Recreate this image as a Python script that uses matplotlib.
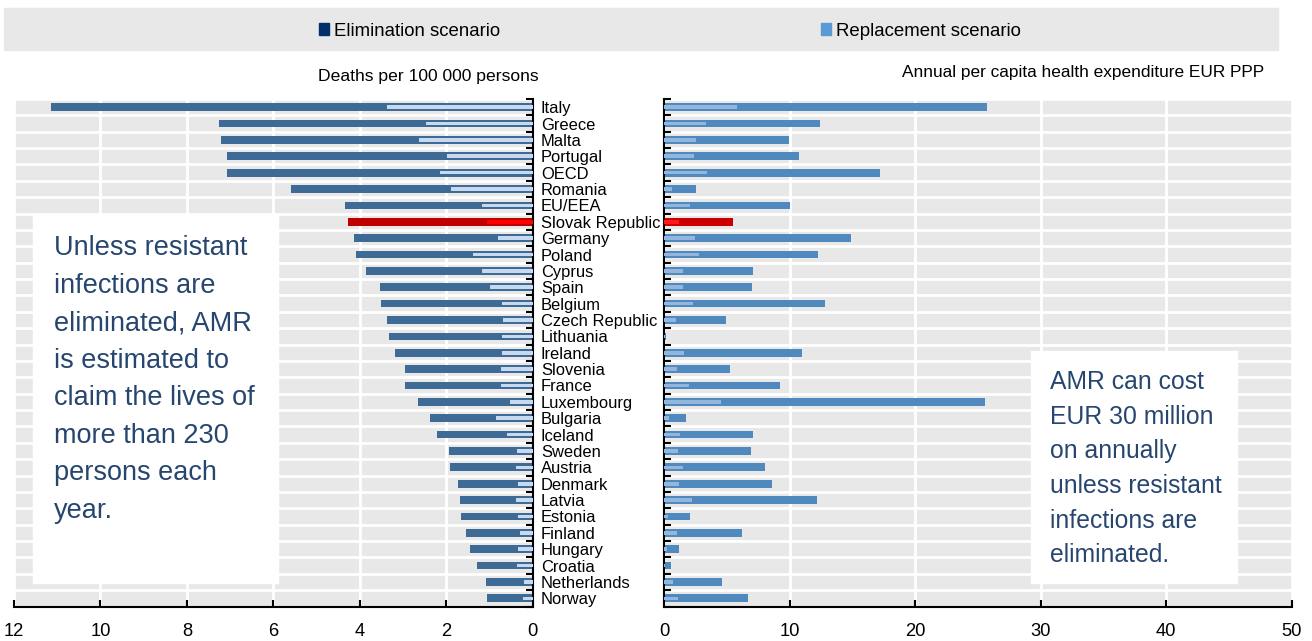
import numpy as np
import matplotlib
matplotlib.use("Agg")
import matplotlib.pyplot as plt
from matplotlib.patches import Patch, Rectangle
from matplotlib.ticker import MultipleLocator

plt.rcParams['font.family'] = ['Liberation Sans', 'DejaVu Sans']

# data
countries = ["Italy", "Greece", "Malta", "Portugal", "OECD", "Romania", "EU/EEA",
             "Slovak Republic", "Germany", "Poland", "Cyprus", "Spain", "Belgium",
             "Czech Republic", "Lithuania", "Ireland", "Slovenia", "France",
             "Luxembourg", "Bulgaria", "Iceland", "Sweden", "Austria", "Denmark",
             "Latvia", "Estonia", "Finland", "Hungary", "Croatia", "Netherlands",
             "Norway"]

# deaths per 100 000 persons
deaths_elimination = [11.15, 7.25, 7.22, 7.06, 7.06, 5.58, 4.35, 4.28, 4.14, 4.09,
                      3.86, 3.54, 3.50, 3.37, 3.32, 3.18, 2.96, 2.95, 2.65, 2.37,
                      2.22, 1.94, 1.90, 1.72, 1.68, 1.66, 1.53, 1.44, 1.29, 1.07, 1.06]
deaths_replacement = [3.36, 2.46, 2.62, 1.99, 2.14, 1.89, 1.16, 1.06, 0.80, 1.38,
                      1.18, 0.98, 0.71, 0.69, 0.71, 0.71, 0.72, 0.73, 0.52, 0.84,
                      0.60, 0.37, 0.39, 0.33, 0.38, 0.34, 0.29, 0.34, 0.37, 0.20, 0.22]

# annual per capita health expenditure, EUR PPP
spend_elimination = [25.7, 12.43, 9.96, 10.77, 17.23, 2.54, 10.06, 5.52, 14.9, 12.3,
                     7.1, 7.04, 12.85, 4.96, 0.13, 10.96, 5.28, 9.28, 25.6, 1.73,
                     7.1, 6.93, 8.03, 8.64, 12.16, 2.1, 6.24, 1.2, 0.56, 4.61, 6.72]
spend_replacement = [5.79, 3.36, 2.54, 2.41, 3.46, 0.65, 2.1, 1.22, 2.48, 2.77,
                     1.55, 1.52, 2.29, 0.96, 0.05, 1.6, 1.04, 2.0, 4.56, 0.4,
                     1.3, 1.15, 1.55, 1.2, 2.24, 0.35, 1.0, 0.2, 0.1, 0.7, 1.15]

highlight = "Slovak Republic"

W, H = 1312, 641
def fx(px):
    return px / W
def fy(py):
    return 1 - py / H

bg = '#e8e8e8'
txt_blue = '#27466f'

fig = plt.figure(figsize=(W / 100, H / 100), dpi=100)

ax_top, ax_bot = 99, 606.5
axL = fig.add_axes([fx(14), fy(ax_bot), fx(532.5) - fx(14), fy(ax_top) - fy(ax_bot)])
axR = fig.add_axes([fx(664), fy(ax_bot), fx(1291.5) - fx(664), fy(ax_top) - fy(ax_bot)])

y = np.arange(len(countries))


def colours(normal, special):
    return [special if c == highlight else normal for c in countries]


axL.barh(y, deaths_elimination, height=0.47, color=colours('#3e6a96', '#c00000'), zorder=2)
axL.barh(y, deaths_replacement, height=0.22, color=colours('#c6d9ee', '#ff0000'), zorder=3)
axR.barh(y, spend_elimination, height=0.47, color=colours('#4f89be', '#cc0000'), zorder=2)
axR.barh(y, spend_replacement, height=0.22, color=colours('#93b6de', '#ff1a1a'), zorder=3)

axL.set_xlim(12, 0)
axR.set_xlim(0, 50)

for ax in (axL, axR):
    ax.set_facecolor(bg)
    ax.set_ylim(len(countries) - 0.5, -0.5)
    ax.set_axisbelow(True)
    ax.xaxis.set_major_locator(MultipleLocator(2 if ax is axL else 10))
    ax.set_yticks(y)
    ax.set_yticks(np.arange(len(countries) + 1) - 0.5, minor=True)
    ax.grid(axis='x', which='major', color='white', lw=2)
    ax.grid(axis='y', which='minor', color='white', lw=2)
    ax.grid(axis='y', which='major', visible=False)
    ax.tick_params(axis='x', direction='in', length=5, width=1.5, pad=12, labelsize=13.2)
    ax.tick_params(axis='y', which='major', length=0)
    ax.tick_params(axis='y', which='minor', direction='in', length=5, width=1.5)
    ax.spines['top'].set_visible(False)
    ax.spines['bottom'].set_linewidth(1.5)

axL.spines['left'].set_visible(False)
axL.spines['right'].set_linewidth(1.5)
axL.yaxis.tick_right()
axL.yaxis.set_tick_params(which='both', right=True, left=False)
axL.set_yticklabels(countries, fontsize=11.9)
axL.tick_params(axis='y', which='major', pad=6)

axR.spines['right'].set_visible(False)
axR.spines['left'].set_linewidth(1.5)
axR.set_yticklabels([])

# panel titles
fig.text(fx(539), fy(77), "Deaths per 100 000 persons", ha='right', va='center', fontsize=12.6)
fig.text(fx(1264), fy(73), "Annual per capita health expenditure EUR PPP",
         ha='right', va='center', fontsize=12.4)

# legend band
fig.add_artist(Rectangle((fx(4), fy(50)), fx(1278) - fx(4), fy(8) - fy(50),
                         transform=fig.transFigure, color=bg, zorder=0))
for xpos, col, lab in [(319, '#002f6c', 'Elimination scenario'),
                       (821, '#5b9bd5', 'Replacement scenario')]:
    fig.legend(handles=[Patch(color=col)], labels=[lab], loc='center left',
               bbox_to_anchor=(fx(xpos), fy(31)), frameon=False, fontsize=13.4,
               handlelength=0.55, handleheight=0.55, handletextpad=0.25,
               borderpad=0, borderaxespad=0)

# annotation boxes
fig.add_artist(Rectangle((fx(33), fy(583)), fx(278) - fx(33), fy(214) - fy(583),
                         transform=fig.transFigure, color='white', zorder=5))
fig.text(fx(54), fy(235), "Unless resistant\ninfections are\neliminated, AMR\n"
         "is estimated to\nclaim the lives of\nmore than 230\npersons each\nyear.",
         ha='left', va='top', fontsize=19.5, color=txt_blue, linespacing=1.576, zorder=6)

fig.add_artist(Rectangle((fx(1031), fy(583)), fx(1237) - fx(1031), fy(351) - fy(583),
                         transform=fig.transFigure, color='white', zorder=5))
fig.text(fx(1050), fy(370), "AMR can cost\nEUR 30 million\non annually\n"
         "unless resistant\ninfections are\neliminated.",
         ha='left', va='top', fontsize=17.8, color=txt_blue, linespacing=1.56, zorder=6)

fig.savefig('out.png', dpi=100)
